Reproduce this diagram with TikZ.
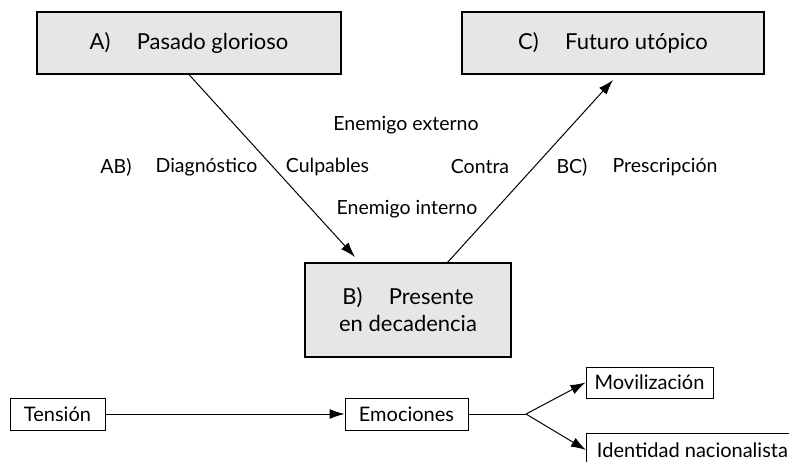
\documentclass[tikz,border=0pt]{standalone}
\usepackage{fontspec}
\setmainfont{Lato}
\usepackage{xcolor}
\usepackage{tikz}
\usetikzlibrary{arrows.meta, positioning}

\definecolor{boxgray}{RGB}{230,230,230}
\tikzset{
  bigbox/.style={draw, fill=boxgray, line width=1.2pt, minimum height=62pt, align=center, font=\fontsize{22}{27}\selectfont},
  smallbox/.style={draw, line width=1pt, minimum height=32pt, inner xsep=5pt, font=\fontsize{20}{24}\selectfont},
  lbl/.style={font=\fontsize{19.5}{23}\selectfont},
  arr/.style={-{Latex[length=15pt,width=10pt]}, line width=1pt},
}

\begin{document}
\begin{tikzpicture}[x=1pt,y=-1pt]
\useasboundingbox (0,0) rectangle (789,461);
% the three stages
\node[bigbox, minimum width=304pt] (pasado) at (189,43) {A)\hspace{1.2em}Pasado glorioso};
\node[bigbox, minimum width=302pt] (futuro) at (613,43) {C)\hspace{1.2em}Futuro utópico};
\node[bigbox, line width=2.5pt, minimum width=206pt, minimum height=94pt] (presente) at (408,310) {B)\hspace{1.2em}Presente\\en decadencia};
% labels in the middle
\node[lbl] (externo) at (406,125) {Enemigo externo};
\node[lbl] (ab) at (116,167) {AB)};
\node[lbl] (diag) at (206.5,167) {Diagnóstico};
\node[lbl] (culp) at (327.5,167) {Culpables};
\node[lbl] (contra) at (480,167) {Contra};
\node[lbl] (bc) at (572,167) {BC)};
\node[lbl] (presc) at (665,167) {Prescripción};
\node[lbl] (interno) at (407,209) {Enemigo interno};
\coordinate (llegada) at (355,257);
\coordinate (salida) at (447,263);
\coordinate (meta) at (613,80);
\draw[arr] (pasado.south) -- (llegada);
\draw[arr] (salida) -- (meta);
% bottom chain
\node[smallbox, minimum width=95pt] (tension) at (57.5,414) {Tensión};
\node[smallbox, minimum width=123pt] (emociones) at (406.5,414) {Emociones};
\node[smallbox, minimum width=127pt, minimum height=31pt] (movil) at (649.5,382.5) {Movilización};
\node[smallbox, minimum width=212pt, minimum height=34pt, anchor=west] (identidad) at (586,450) {Identidad nacionalista};
\coordinate (rama) at (526,414);
\draw[arr] (tension) -- (emociones);
\draw[line width=1pt] (emociones) -- (rama);
\draw[arr] (rama) -- (movil.west);
\draw[arr] (rama) -- (identidad.west);
\end{tikzpicture}
\end{document}
